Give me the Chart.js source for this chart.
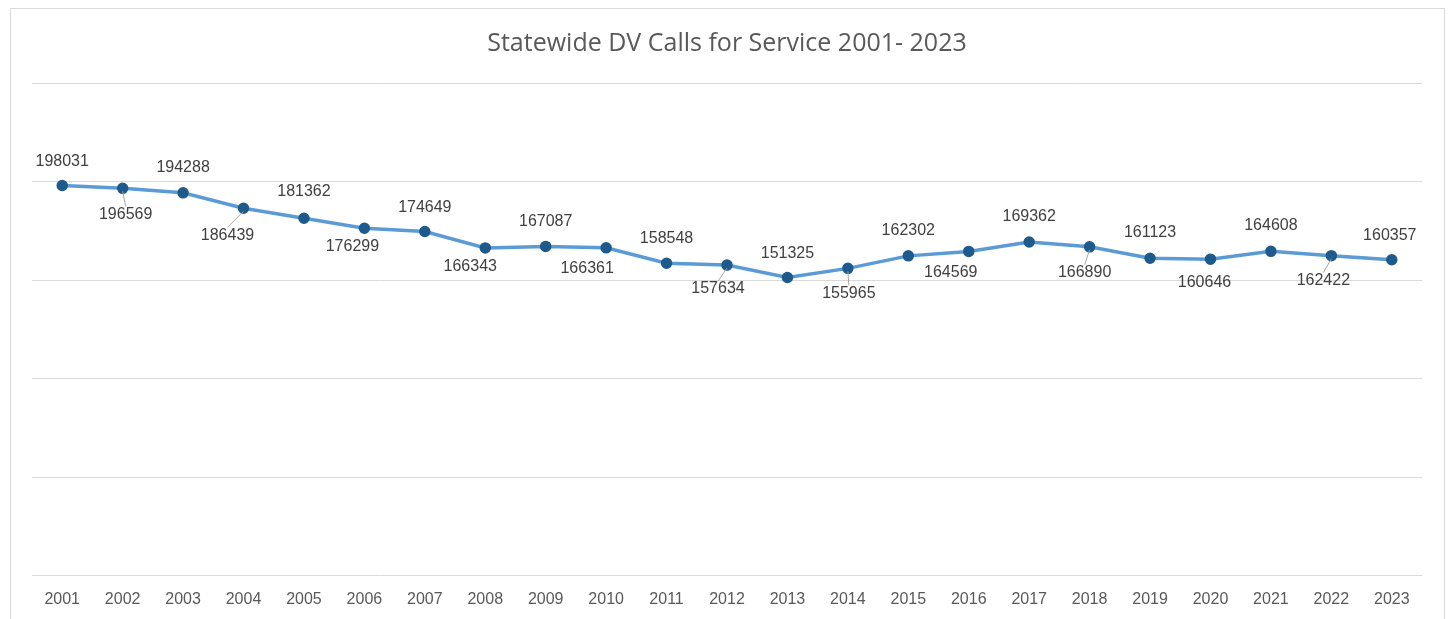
<!DOCTYPE html>
<html>
<head>
<meta charset="utf-8">
<script src="https://cdn.jsdelivr.net/npm/chart.js@4"></script>
<style>
  html, body { margin: 0; padding: 0; background: #fff; }
  .card {
    position: absolute; left: 10px; top: 8px;
    width: 1433px; height: 630px;
    border: 1px solid #d9d9d9; background: #fff;
  }
  canvas { display: block; }
</style>
</head>
<body>
<div class="card"><canvas id="dvChart" width="1433" height="606"></canvas></div>
<script>
// Calls for service per year
var years = ['2001', '2002', '2003', '2004', '2005', '2006', '2007', '2008', '2009', '2010', '2011', '2012',
  '2013', '2014', '2015', '2016', '2017', '2018', '2019', '2020', '2021', '2022', '2023'];
var calls = [198031, 196569, 194288, 186439, 181362, 176299, 174649, 166343, 167087, 166361, 158548, 157634,
  151325, 155965, 162302, 164569, 169362, 166890, 161123, 160646, 164608, 162422, 160357];
var yTicks = [0, 50000, 100000, 150000, 200000, 250000];

// where each data label sits relative to its point [dx, dy, leader line]
var labelOffsets = [
  [0, -24, false], [3, 26, true], [0, -25, false], [-16, 27, true], [0, -27, false], [-12, 18, false],
  [0, -24, false], [-15, 19, false], [0, -25, false], [-19, 21, false], [0, -25, false], [-9, 24, true],
  [0, -24, false], [1, 25, true], [0, -25, false], [-18, 21, false], [0, -25, false], [-5, 26, true],
  [0, -26, false], [-6, 23, false], [0, -26, false], [-8, 25, true], [-2, -24, false]
];

var dataLabels = {
  id: 'dataLabels',
  afterDatasetsDraw: function (chart) {
    var ctx = chart.ctx;
    var meta = chart.getDatasetMeta(0);
    ctx.save();
    ctx.font = '16px "Liberation Sans", Arial, sans-serif';
    ctx.textAlign = 'center';
    ctx.textBaseline = 'middle';
    meta.data.forEach(function (pt, i) {
      var off = labelOffsets[i];
      var lx = pt.x + off[0];
      var ly = pt.y + off[1];
      if (off[2]) {
        ctx.strokeStyle = '#a6a6a6';
        ctx.lineWidth = 1;
        ctx.beginPath();
        ctx.moveTo(pt.x, pt.y + 3);
        ctx.lineTo(lx, ly - 8);
        ctx.stroke();
      }
      ctx.fillStyle = '#404040';
      ctx.fillText(String(chart.data.datasets[0].data[i]), lx, ly);
    });
    ctx.restore();
  }
};

new Chart(document.getElementById('dvChart').getContext('2d'), {
  type: 'line',
  data: {
    labels: years,
    datasets: [{
      label: 'Calls for Service',
      data: calls,
      borderColor: '#5b9bd5',
      borderWidth: 3.5,
      pointBackgroundColor: '#1f5a8c',
      pointBorderColor: '#1f5a8c',
      pointRadius: 4,
      tension: 0,
      fill: false
    }]
  },
  options: {
    responsive: false,
    animation: false,
    layout: { padding: { left: 21, right: 22, top: 0, bottom: 0 } },
    plugins: {
      legend: { display: false },
      tooltip: { enabled: false },
      title: {
        display: true,
        text: 'Statewide DV Calls for Service 2001- 2023',
        color: '#595959',
        font: { family: '"Open Sans", sans-serif', size: 25, weight: 'normal' },
        padding: { top: 20, bottom: 24 }
      }
    },
    scales: {
      x: {
        offset: true,
        grid: { display: false },
        border: { display: false },
        ticks: {
          color: '#595959',
          padding: 6,
          font: { family: '"Liberation Sans", Arial, sans-serif', size: 16 }
        }
      },
      y: {
        min: 0,
        max: 250000,
        afterBuildTicks: function (axis) {
          axis.ticks = yTicks.map(function (v) { return { value: v }; });
        },
        grid: { color: '#d9d9d9', lineWidth: 1, drawTicks: false },
        border: { display: false },
        ticks: { display: false }
      }
    }
  },
  plugins: [dataLabels]
});
</script>
</body>
</html>
